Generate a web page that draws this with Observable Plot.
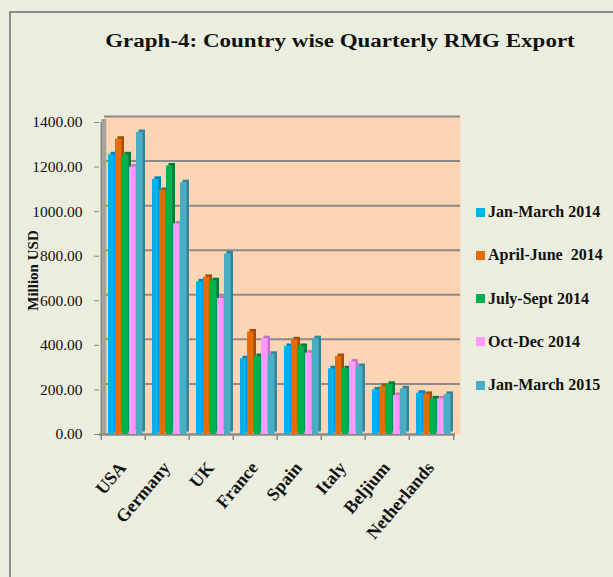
<!DOCTYPE html>
<html>
<head>
<meta charset="utf-8">
<script src="https://cdn.jsdelivr.net/npm/d3@7"></script>
<script src="https://cdn.jsdelivr.net/npm/@observablehq/plot@0.6"></script>
<style>
  html, body { margin: 0; padding: 0; }
  body { width: 613px; height: 577px; overflow: hidden; background: #EBEEDF; position: relative; font-family: "Liberation Serif", "Times New Roman", serif; }
  #border { position: absolute; left: 9px; top: 11px; width: 700px; height: 700px; border-left: 2px solid #8c8c8c; border-top: 2px solid #8c8c8c; }
  #title { position: absolute; left: 0; top: 31px; width: 680px; text-align: center; font-weight: bold; font-size: 23px; color: #111; transform: scaleY(0.82); transform-origin: center top; white-space: nowrap; }
  #chart { position: absolute; left: 0; top: 0; }
  #legend { position: absolute; left: 476px; top: 0; }
  .item { position: absolute; left: 0; white-space: nowrap; font-weight: bold; font-size: 16px; color: #111; display: flex; align-items: center; height: 20px; }
  .sw { width: 9px; height: 9px; margin-right: 3px; display: inline-block; }
</style>
</head>
<body>
<div id="border"></div>
<div id="title">Graph-4: Country wise Quarterly RMG Export</div>
<div id="chart"></div>
<div id="legend"></div>
<script>
const countries = ["USA", "Germany", "UK", "France", "Spain", "Italy", "Beljium", "Netherlands"];
const seriesNames = ["Jan-March 2014", "April-June  2014", "July-Sept 2014", "Oct-Dec 2014", "Jan-March 2015"];
const janMar2014 = [1255, 1145, 685, 340, 395, 295, 200, 185];
const aprJun2014 = [1325, 1095, 705, 460, 425, 350, 215, 180];
const julSep2014 = [1255, 1205, 690, 350, 395, 295, 225, 160];
const octDec2014 = [1200, 945, 610, 430, 365, 325, 175, 160];
const janMar2015 = [1355, 1130, 810, 360, 430, 305, 205, 180];
const yTicks = [0, 200, 400, 600, 800, 1000, 1200, 1400];

const seriesValues = [janMar2014, aprJun2014, julSep2014, octDec2014, janMar2015];
const colors = ["#00B0F0", "#E46C0A", "#00B050", "#FF99FF", "#4BACC6"];
const darkColors = ["#0082B4", "#A54E06", "#007A38", "#C672C6", "#34859A"];

const W = 613, H = 577;
const mL = 99, mR = 158, mT = 122, mB = 143;
const band = (W - mL - mR) / countries.length;
const barW = 7, lead = 7;

const marks = [];
// back wall
marks.push(Plot.frame({fill: "#FCD5B5", stroke: "none", dx: 5, insetTop: -6}));
// gridlines on back wall
marks.push(Plot.ruleY(yTicks.filter(d => d > 0), {stroke: "#8a8a8a", strokeWidth: 2, dx: 5, dy: -6}));
// left side wall
marks.push(Plot.ruleX([countries[0]], {x: d => d, dx: -band / 2 + 2.5, stroke: "#A8A29C", strokeWidth: 5, insetTop: -3}));
marks.push(Plot.ruleX([countries[0]], {x: d => d, dx: -band / 2, stroke: "#8a8a8a", strokeWidth: 1.5}));
// floor
marks.push(Plot.ruleY([0], {stroke: "#8a8a8a", strokeWidth: 2.5}));
// category boundary ticks
marks.push(Plot.ruleX(countries, {x: d => d, dx: -band / 2, y1: 0, y2: 0, insetBottom: -6, stroke: "#8a8a8a", strokeWidth: 1.5}));
marks.push(Plot.ruleX([countries[countries.length - 1]], {x: d => d, dx: band / 2, y1: 0, y2: 0, insetBottom: -6, stroke: "#8a8a8a", strokeWidth: 1.5}));

seriesValues.forEach((vals, i) => {
  const data = countries.map((c, j) => ({country: c, value: vals[j]}));
  const iL = lead + i * barW;
  const iR = band - lead - (i + 1) * barW;
  // 3D side/top shading
  marks.push(Plot.barY(data, {x: "country", y: "value", fill: darkColors[i], insetLeft: iL, insetRight: iR, dx: 2.5, dy: -2.5}));
  marks.push(Plot.barY(data, {x: "country", y: "value", fill: colors[i], insetLeft: iL, insetRight: iR}));
});

// y axis
marks.push(Plot.axisY(yTicks, {
  tickSize: 5, tickPadding: 12, stroke: "#8a8a8a",
  tickFormat: d => d.toFixed(2), fontSize: 15.5, fill: "#111",
  label: null
}));
// x labels
marks.push(Plot.text(countries, {
  x: d => d, y: 0, text: d => d, rotate: -50, textAnchor: "end", lineAnchor: "middle",
  dx: -1, dy: 30, fontSize: 18, fontWeight: "bold", fill: "#111"
}));
// y axis title
marks.push(Plot.text(["Million USD"], {
  frameAnchor: "left", text: d => d, rotate: -90, textAnchor: "middle", dx: -66, dy: -8,
  fontSize: 15, fontWeight: "bold", fill: "#111"
}));

const plot = Plot.plot({
  width: W, height: H,
  marginLeft: mL, marginRight: mR, marginTop: mT, marginBottom: mB,
  style: {background: "transparent", fontFamily: "'Liberation Serif', 'Times New Roman', serif", overflow: "visible"},
  x: {domain: countries, padding: 0, axis: null},
  y: {domain: [0, 1400], axis: null},
  marks
});
document.getElementById("chart").appendChild(plot);

const legend = document.getElementById("legend");
seriesNames.forEach((name, i) => {
  const item = document.createElement("div");
  item.className = "item";
  item.style.top = (202 + i * 43.3) + "px";
  const sw = document.createElement("span");
  sw.className = "sw";
  sw.style.background = colors[i];
  const t = document.createElement("span");
  t.textContent = name;
  t.style.whiteSpace = "pre";
  item.appendChild(sw);
  item.appendChild(t);
  legend.appendChild(item);
});
</script>
</body>
</html>
